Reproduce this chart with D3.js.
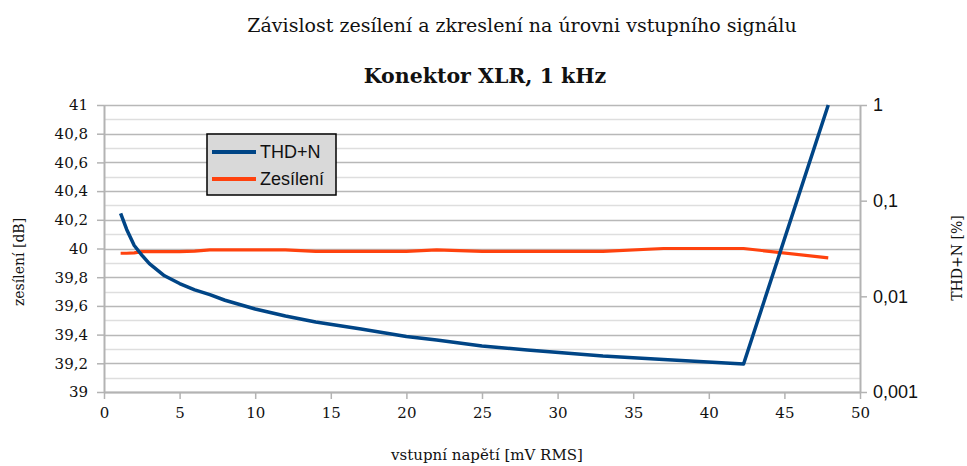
<!DOCTYPE html>
<meta charset="utf-8">
<script src="https://d3js.org/d3.v7.min.js"></script>
<style>
  body { margin: 0; background: #fff; }
  .serif { font-family: "DejaVu Serif", "Liberation Serif", serif; fill: #111; }
  .sans { font-family: "Liberation Sans", Arial, sans-serif; fill: #111; }
</style>
<svg width="967" height="466"></svg>

<script>
    // measurement points (mV RMS)
    const napeti = [1.1, 1.5, 2, 2.5, 3, 4, 5, 6, 7, 8, 10, 12, 14, 17, 20, 22, 25, 28, 33, 37, 42.3, 47.9];
    // THD+N [%]
    const thd = [0.0735, 0.05, 0.034, 0.027, 0.022, 0.0164, 0.0136, 0.0117, 0.0104, 0.0091, 0.00738, 0.00623,
        0.0054, 0.00456, 0.0038, 0.0035, 0.00303, 0.00275, 0.00238, 0.00219, 0.00196, 1.0];
    // zesílení [dB]
    const zesileni = [39.967, 39.967, 39.97, 39.978, 39.978, 39.978, 39.978, 39.982, 39.99, 39.99, 39.99, 39.99,
        39.98, 39.98, 39.98, 39.99, 39.98, 39.98, 39.98, 40.0, 40.0, 39.935];

    const xTicks = [0, 5, 10, 15, 20, 25, 30, 35, 40, 45, 50];
    const gainTicks = [39, 39.2, 39.4, 39.6, 39.8, 40, 40.2, 40.4, 40.6, 40.8, 41];
    const thdTicks = [0.001, 0.01, 0.1, 1];

    const margin = {top: 105, right: 107, bottom: 74, left: 104},
        width = 967 - margin.left - margin.right,
        height = 466 - margin.top - margin.bottom;

    const comma = d => String(d).replace(".", ",");

    const svg = d3.select("svg");
    const g = svg.append("g")
        .attr("transform", "translate(" + margin.left + "," + margin.top + ")");

    const x = d3.scaleLinear().domain([0, 50]).range([0, width]);
    const yGain = d3.scaleLinear().domain([39, 41]).range([height, 0]);
    const yThd = d3.scaleLog().domain([0.001, 1]).range([height, 0]);

    // minor grid (0.1 dB) and major grid (0.2 dB)
    g.append("g")
        .selectAll("line")
        .data(d3.range(39.1, 41, 0.2))
        .enter()
        .append("line")
        .attr("x1", 0).attr("x2", width)
        .attr("y1", d => Math.round(yGain(d)) + 0.5)
        .attr("y2", d => Math.round(yGain(d)) + 0.5)
        .attr("stroke", "#dedede")
        .attr("stroke-width", 1.5);

    g.append("g")
        .selectAll("line")
        .data(gainTicks)
        .enter()
        .append("line")
        .attr("x1", 0).attr("x2", width)
        .attr("y1", d => Math.round(yGain(d)) + 0.5)
        .attr("y2", d => Math.round(yGain(d)) + 0.5)
        .attr("stroke", "#b8b8b8")
        .attr("stroke-width", 1.5);

    // axes
    const axisStyle = sel => {
        sel.select(".domain").attr("stroke", "#b3b3b3").attr("stroke-width", 2);
        sel.selectAll(".tick line").attr("stroke", "#b3b3b3").attr("stroke-width", 1.5);
        sel.selectAll(".tick text").attr("fill", "#111");
    };

    g.append("g")
        .attr("transform", "translate(0," + height + ")")
        .call(d3.axisBottom(x).tickValues(xTicks).tickSize(7).tickSizeOuter(0).tickPadding(8))
        .call(axisStyle)
        .call(a => a.selectAll("text").attr("class", "serif").style("font-size", "15px"));

    g.append("g")
        .call(d3.axisLeft(yGain).tickValues(gainTicks).tickFormat(comma).tickSize(7).tickSizeOuter(0).tickPadding(9))
        .call(axisStyle)
        .call(a => a.selectAll("text").attr("class", "serif").style("font-size", "15px"));

    g.append("g")
        .attr("transform", "translate(" + width + ",0)")
        .call(d3.axisRight(yThd).tickValues(thdTicks).tickFormat(comma).tickSize(7).tickSizeOuter(0).tickPadding(6))
        .call(axisStyle)
        .call(a => a.selectAll("text").attr("class", "sans").style("font-size", "18px"));

    // series
    const lineThd = d3.line()
        .x((d, i) => x(napeti[i]))
        .y(d => yThd(d));

    const lineGain = d3.line()
        .x((d, i) => x(napeti[i]))
        .y(d => yGain(d));

    g.append("path")
        .datum(zesileni)
        .attr("fill", "none")
        .attr("stroke", "#ff420e")
        .attr("stroke-width", 3.2)
        .attr("stroke-linejoin", "round")
        .attr("d", lineGain);

    g.append("path")
        .datum(thd)
        .attr("fill", "none")
        .attr("stroke", "#004586")
        .attr("stroke-width", 3.5)
        .attr("stroke-linejoin", "round")
        .attr("d", lineThd);

    // legend
    const legend = svg.append("g").attr("transform", "translate(207,134)");
    legend.append("rect")
        .attr("width", 129).attr("height", 61)
        .attr("fill", "#d9d9d9")
        .attr("stroke", "#000")
        .attr("stroke-width", 1.5);
    const items = [{name: "THD+N", color: "#004586"}, {name: "Zesílení", color: "#ff420e"}];
    items.forEach((d, i) => {
        legend.append("line")
            .attr("x1", 5).attr("x2", 49)
            .attr("y1", 18 + i * 27).attr("y2", 18 + i * 27)
            .attr("stroke", d.color)
            .attr("stroke-width", 4);
        legend.append("text")
            .attr("class", "sans")
            .attr("x", 53).attr("y", 18 + i * 27)
            .attr("dy", "0.35em")
            .style("font-size", "18px")
            .text(d.name);
    });

    // titles
    svg.append("text")
        .attr("class", "serif")
        .attr("x", 522).attr("y", 32)
        .attr("text-anchor", "middle")
        .style("font-size", "19px")
        .text("Závislost zesílení a zkreslení na úrovni vstupního signálu");

    svg.append("text")
        .attr("class", "serif")
        .attr("x", 485).attr("y", 83)
        .attr("text-anchor", "middle")
        .style("font-size", "20.5px")
        .style("font-weight", "bold")
        .text("Konektor XLR, 1 kHz");

    svg.append("text")
        .attr("class", "serif")
        .attr("x", 487).attr("y", 460)
        .attr("text-anchor", "middle")
        .style("font-size", "15px")
        .text("vstupní napětí [mV RMS]");

    svg.append("text")
        .attr("class", "serif")
        .attr("transform", "translate(24,262) rotate(-90)")
        .attr("text-anchor", "middle")
        .style("font-size", "14px")
        .text("zesílení [dB]");

    svg.append("text")
        .attr("class", "serif")
        .attr("transform", "translate(962,258) rotate(-90)")
        .attr("text-anchor", "middle")
        .style("font-size", "14px")
        .text("THD+N [%]");
</script>
